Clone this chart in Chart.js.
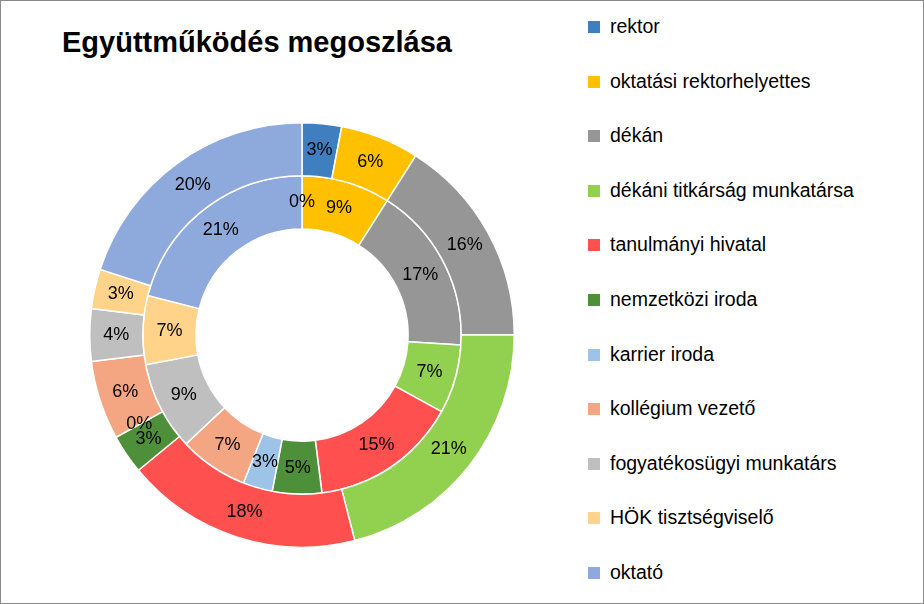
<!DOCTYPE html>
<html><head><meta charset="utf-8">
<script src="https://cdn.jsdelivr.net/npm/chart.js@4"></script>
<style>
body{margin:0;width:924px;height:604px;background:#fff;font-family:"Liberation Sans",Arial,sans-serif;}
#frame{position:absolute;left:0;top:0;width:922px;height:602px;border:1px solid #898989;}
#title{position:absolute;left:62px;top:26px;font-weight:bold;font-size:29px;color:#000;}
#wrap{position:absolute;left:89px;top:122px;width:426px;height:426px;}
#legend{position:absolute;left:588px;top:0;}
.li{position:absolute;left:0;white-space:nowrap;font-size:19.5px;color:#000;}
.sw{position:absolute;left:0;width:12px;height:12px;}
.tx{position:absolute;left:22px;}
</style></head><body>
<div id="frame"></div>
<div id="title">Együttműködés megoszlása</div>
<div id="wrap"><canvas id="c"></canvas></div>
<div id="legend"></div>
<script>
const categories=["rektor","oktatási rektorhelyettes","dékán","dékáni titkárság munkatársa","tanulmányi hivatal","nemzetközi iroda","karrier iroda","kollégium vezető","fogyatékosügyi munkatárs","HÖK tisztségviselő","oktató"];
const outerValues=[3,6,16,21,18,3,0,6,4,3,20];
const innerValues=[0,9,17,7,15,5,3,7,9,7,21];
const colors=["#3F7FBF","#FFC000","#969696","#92D050","#FF5050","#4E8F3A","#9DC3E6","#F4A582","#BFBFBF","#FFD48A","#8EA9DB"];

const lg=document.getElementById('legend');
categories.forEach((c,i)=>{
  const y=27+i*54.6;
  const d=document.createElement('div');d.className='li';d.style.top=(y-12)+'px';
  d.innerHTML='<div class="sw" style="top:6px;background:'+colors[i]+'"></div><div class="tx">'+c+'</div>';
  lg.appendChild(d);
});

const labelPlugin={id:'lbl',afterDatasetsDraw(chart){
  const ctx=chart.ctx;ctx.save();
  ctx.font='18px "Liberation Sans", Arial, sans-serif';ctx.fillStyle='#000';
  ctx.textAlign='center';ctx.textBaseline='middle';
  chart.data.datasets.forEach((ds,di)=>{
    chart.getDatasetMeta(di).data.forEach((arc,i)=>{
      const p=arc.tooltipPosition();
      ctx.fillText(ds.data[i]+'%',p.x,p.y);
    });
  });
  ctx.restore();
}};

new Chart(document.getElementById('c'),{
  type:'doughnut',
  data:{labels:categories,datasets:[
    {data:outerValues,backgroundColor:colors,borderColor:'#fff',borderWidth:1.5},
    {data:innerValues,backgroundColor:colors,borderColor:'#fff',borderWidth:1.5}
  ]},
  options:{responsive:true,maintainAspectRatio:false,animation:false,cutout:'50%',
    layout:{padding:0},
    plugins:{legend:{display:false},tooltip:{enabled:false}}},
  plugins:[labelPlugin]
});
</script>
</body></html>
